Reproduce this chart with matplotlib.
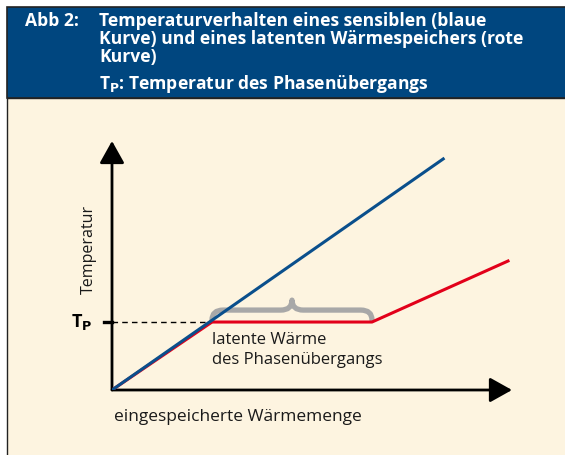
import matplotlib.pyplot as plt
from matplotlib.patches import Rectangle, PathPatch
from matplotlib.path import Path

plt.rcParams['font.family'] = ['Open Sans', 'DejaVu Sans']

# Daten (willkürliche Einheiten)
waerme_blau = [0, 8.28]
temp_blau = [0, 9.28]
waerme_rot = [0, 2.5, 6.5, 9.9]
temp_rot = [0, 2.73, 2.73, 5.18]
t_phase = 2.73
latent_von, latent_bis = 2.5, 6.5

titel_nr = 'Abb 2:'
titel_zeilen = ['Temperaturverhalten eines sensiblen (blaue',
                'Kurve) und eines latenten Wärmespeichers (rote',
                'Kurve)',
                r'T$_\mathbf{P}$: Temperatur des Phasenübergangs']

W, H = 565, 455
fig = plt.figure(figsize=(W / 100, H / 100), dpi=100)
fig.patch.set_facecolor('white')

# Rahmen: Kopf blau, Inhalt creme
fig.add_artist(Rectangle((7 / W, -0.01), 1, (455 - 98) / H + 0.01, transform=fig.transFigure,
                         facecolor='#fdf4e0', edgecolor='#222222', lw=1.0, zorder=-5))
fig.add_artist(Rectangle((7 / W, (455 - 98) / H), 1, 91 / H, transform=fig.transFigure,
                         facecolor='#00467f', edgecolor='#222222', lw=1.2, zorder=-5))

fig.text(25 / W, 1 - 26 / H, titel_nr, color='white', fontsize=12.6, fontweight='bold', va='baseline')
for yy, zeile in zip([26, 44, 62, 89], titel_zeilen):
    fig.text(99 / W, 1 - yy / H, zeile, color='white', fontsize=12.6, fontweight='bold', va='baseline')

ax = fig.add_axes([112 / W, 65 / H, 400 / W, 249 / H])
ax.set_facecolor('none')
ax.set_xlim(0, 10)
ax.set_ylim(0, 10)
for s in ax.spines.values():
    s.set_visible(False)
ax.set_xticks([])
ax.set_yticks([])

# Achsen mit Pfeilen
pfeil = dict(arrowstyle='-|>,head_length=0.68,head_width=0.38', mutation_scale=20,
             lw=2.0, color='black', shrinkA=0, shrinkB=0)
ax.annotate('', xy=(1, 0), xytext=(0, 0), xycoords='axes fraction', arrowprops=pfeil)
ax.annotate('', xy=(0, 1), xytext=(0, 0), xycoords='axes fraction', arrowprops=pfeil)

# geschweifte Klammer für die latente Wärme
xm = (latent_von + latent_bis) / 2
yb, yh, yt = t_phase + 0.08, t_phase + 0.48, t_phase + 0.88
r = 0.28
verts = [(latent_von, yb), (latent_von, yh), (latent_von + r, yh),
         (xm - r, yh), (xm, yh), (xm, yt),
         (xm, yh), (xm + r, yh),
         (latent_bis - r, yh), (latent_bis, yh), (latent_bis, yb)]
codes = [Path.MOVETO, Path.CURVE3, Path.CURVE3,
         Path.LINETO, Path.CURVE3, Path.CURVE3,
         Path.CURVE3, Path.CURVE3,
         Path.LINETO, Path.CURVE3, Path.CURVE3]
ax.add_patch(PathPatch(Path(verts, codes), facecolor='none', edgecolor='#a8a8a8',
                       lw=3.8, capstyle='round', joinstyle='round', zorder=1))

ax.plot([0, latent_von], [t_phase, t_phase], color='black', lw=1.0, ls=(0, (4, 3)), zorder=2)
ax.plot(waerme_rot, temp_rot, color='#e2001a', lw=2.2, zorder=3)
ax.plot(waerme_blau, temp_blau, color='#0a4f8c', lw=2.2, zorder=4)

# Markierung T_P
ax.plot([-0.2, 0], [t_phase, t_phase], color='black', lw=2.4, clip_on=False)
ax.text(-0.75, t_phase, r'T$_\mathbf{P}$', fontsize=13, fontweight='bold',
        ha='center', va='center')

ax.text(latent_von, t_phase - 0.42, 'latente Wärme\ndes Phasenübergangs',
        fontsize=12, va='top', ha='left', linespacing=1.3, color='#1a1a1a')
ax.text(0.005, -0.11, 'eingespeicherte Wärmemenge', transform=ax.transAxes,
        fontsize=12.5, va='center', ha='left', color='#1a1a1a')
ax.text(-0.058, 0.566, 'Temperatur', transform=ax.transAxes, rotation=90,
        fontsize=11.5, va='center', ha='center', color='#1a1a1a')

plt.savefig('out.png', dpi=100)
